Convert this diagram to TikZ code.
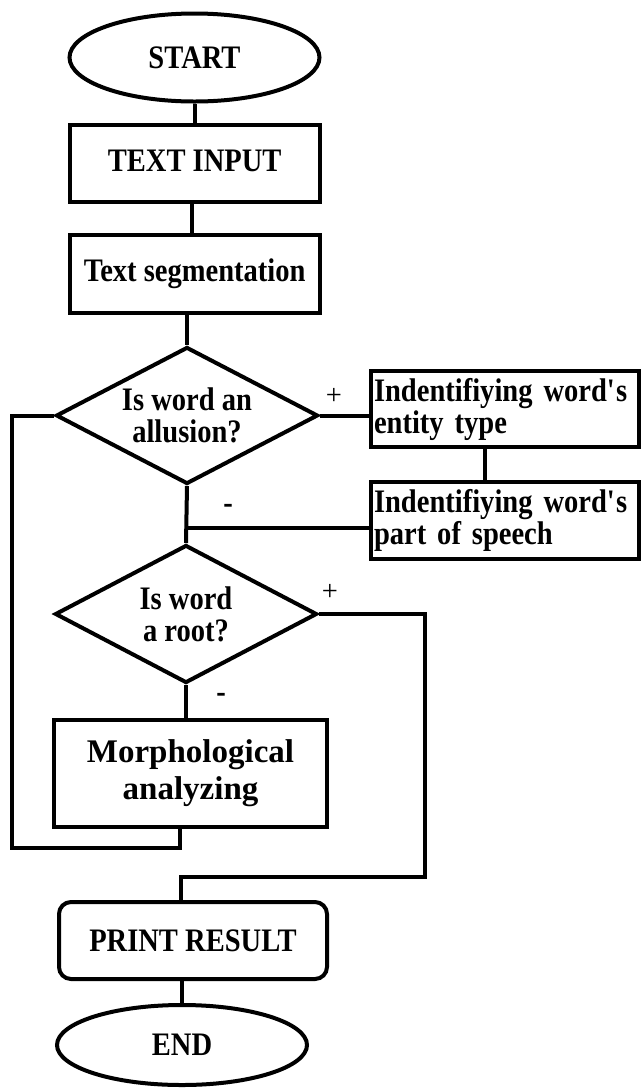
\documentclass[tikz,border=0pt]{standalone}
\usepackage{fontspec}
\setmainfont{Liberation Serif}[FakeStretch=0.87]
\newfontfamily\morphfont{Liberation Serif}
\usetikzlibrary{shapes.geometric}
\begin{document}
\begin{tikzpicture}[x=1pt, y=-1pt, line width=4pt,
    font=\fontsize{32.8}{32}\selectfont\bfseries,
    terminal/.style={draw, ellipse, minimum width=250, minimum height=88, inner sep=0},
    procbox/.style={draw, rectangle, minimum width=250, minimum height=77, inner sep=0},
    decision/.style={draw, diamond, aspect=1.9, inner sep=0, minimum width=262, minimum height=137, align=center},
    sidebox/.style={draw, rectangle, minimum width=268, minimum height=76, text width=262, inner sep=3, align=left},
    sign/.style={inner sep=0}]
    \useasboundingbox (0,0) rectangle (641,1088);

    % Main column
    \node[terminal] (start) at (194.5,57.5) {START};
    \node[procbox] (input) at (194.7,163.5) {\raisebox{6pt}{TEXT INPUT}};
    \node[procbox, minimum height=78] (segment) at (194.7,274) {Text segmentation};
    \node[decision] (allusion) at (187,415.5) {Is word an\\allusion?};
    \node[decision, minimum height=138] (root) at (186,614) {Is word\\a root?};
    \node[procbox, minimum width=273, minimum height=107, align=center,
          font=\morphfont\fontsize{33}{37}\selectfont\bfseries] (morph) at (190.5,773.5) {Morphological\\analyzing};
    \node[procbox, minimum width=268, rounded corners=12] (print) at (193,940.5) {PRINT RESULT};
    \node[terminal, minimum height=80] (end) at (182,1045) {END};

    % Side branch
    \node[sidebox] (entity) at (505,409) {Indentifiying word\textquotesingle s\\entity type};
    \node[sidebox, minimum height=77] (speech) at (505,520.5) {Indentifiying word\textquotesingle s\\part of speech};

    % Bends of the loops
    \coordinate (rbend) at (425,877);
    \coordinate (lbend) at (12,848);

    % Connectors
    \draw (start.south) -- (start.south |- input.north);
    \draw ([xshift=-3]input.south) -- ([xshift=-3]input.south |- segment.north);
    \draw (segment.south -| allusion.north) -- (allusion.north);
    \draw (allusion.east) -- (allusion.east -| entity.west);
    \draw ([xshift=-20]entity.south) -- ([xshift=-20]entity.south |- speech.north);
    \draw (allusion.south) -- (root.north);
    \draw ([yshift=-7.5]speech.west) -- ([yshift=-7.5]speech.west -| allusion.south);
    \draw (root.south) -- (root.south |- morph.north);
    \draw (root.east) -| (rbend) -| ([xshift=-12]print.north);
    \draw ([xshift=-10.5]morph.south) |- (lbend) |- (allusion.west);
    \draw (end.north |- print.south) -- (end.north);

    % Branch signs
    \node[sign, font=\morphfont\fontsize{28.5}{32}\selectfont] (plusA) at (334,396) {+};
    \node[sign] (minusA) at (228,509) {-};
    \node[sign, font=\morphfont\fontsize{28.5}{32}\selectfont] (plusB) at (330,592) {+};
    \node[sign] (minusB) at (221,698) {-};
\end{tikzpicture}
\end{document}
